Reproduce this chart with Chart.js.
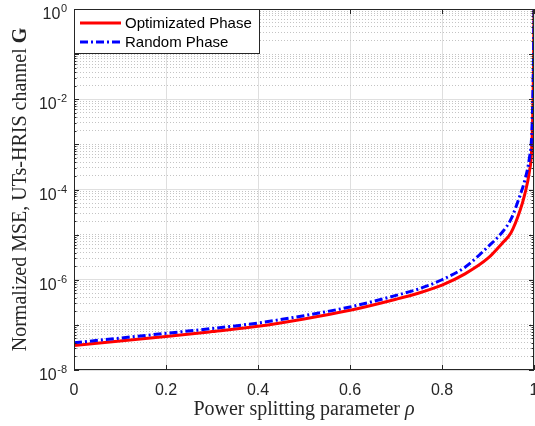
<!DOCTYPE html>
<html>
<head>
<meta charset="utf-8">
<script src="https://cdn.jsdelivr.net/npm/chart.js@4.4.0/dist/chart.umd.min.js"></script>
<style>
  html, body { margin: 0; padding: 0; background: #fff; overflow: hidden; }
  canvas { display: block; }
</style>
</head>
<body>
<canvas id="mseChart" width="535" height="426"></canvas>
<script>
// Data
const rho = [0, 0.1, 0.2, 0.3, 0.4, 0.5, 0.6, 0.7, 0.75, 0.8, 0.85, 0.9, 0.93, 0.95, 0.97, 0.98, 0.99, 0.995, 0.998, 0.999, 1];
const optimizedMse = [3.5e-8, 4.4e-8, 5.5e-8, 7.1e-8, 9.3e-8, 1.35e-7, 2.1e-7, 3.7e-7, 5.1e-7, 7.6e-7, 1.35e-6, 3.0e-6, 6.3e-6, 1.1e-5, 3.5e-5, 7.9e-5, 2.5e-4, 7.9e-4, 1e-2, 6.3e-2, 1];
const randomMse = [4.0e-8, 5.1e-8, 6.5e-8, 8.3e-8, 1.1e-7, 1.6e-7, 2.5e-7, 4.5e-7, 6.3e-7, 1.0e-6, 1.9e-6, 5.4e-6, 1.1e-5, 2.2e-5, 7.6e-5, 1.6e-4, 5.0e-4, 1.6e-3, 2.0e-2, 0.1, 1];
const seriesNames = ["Optimizated Phase", "Random Phase"];
const xTicks = [0, 0.2, 0.4, 0.6, 0.8, 1];
const xTickLabels = ["0", "0.2", "0.4", "0.6", "0.8", "1"];
const yTickExps = [0, -2, -4, -6, -8];
const yDecades = [-8, -7, -6, -5, -4, -3, -2, -1, 0];

const textGray = "#262626";
const serif = "'Liberation Serif', 'DejaVu Serif', serif";
const sans = "'Liberation Sans', Arial, sans-serif";

// every minor/major value for the log grid
const yGridValues = [];
yDecades.forEach((k) => {
  for (let m = 1; m <= 9; m++) {
    if (k === 0 && m > 1) break;
    yGridValues.push(m * Math.pow(10, k));
  }
});

function isDecade(v) {
  const e = Math.log10(v);
  return Math.abs(e - Math.round(e)) < 1e-9;
}
function isLabelled(v) {
  return isDecade(v) && Math.round(Math.log10(v)) % 2 === 0;
}

// Axes box, inward ticks, labels, titles, legend (MATLAB look)
const matlabAxes = {
  id: "matlabAxes",
  afterDraw(chart) {
    const { ctx, chartArea: a, scales: { x, y } } = chart;
    ctx.save();

    // tick marks
    ctx.strokeStyle = textGray;
    ctx.lineWidth = 1;
    ctx.beginPath();
    xTicks.forEach((v) => {
      const px = Math.round(x.getPixelForValue(v)) + 0.5;
      ctx.moveTo(px, a.bottom);
      ctx.lineTo(px, a.bottom - 5);
      ctx.moveTo(px, a.top);
      ctx.lineTo(px, a.top + 5);
    });
    yGridValues.forEach((v) => {
      const py = Math.round(y.getPixelForValue(v)) + 0.5;
      const len = isDecade(v) ? 5 : 2.5;
      ctx.moveTo(a.left, py);
      ctx.lineTo(a.left + len, py);
      ctx.moveTo(a.right, py);
      ctx.lineTo(a.right - len, py);
    });
    ctx.stroke();

    // box
    ctx.strokeRect(a.left + 0.5, a.top + 0.5, a.right - a.left - 1, a.bottom - a.top - 1);

    // x tick labels
    ctx.fillStyle = textGray;
    ctx.font = "16px " + sans;
    ctx.textAlign = "center";
    ctx.textBaseline = "alphabetic";
    xTicks.forEach((v, i) => {
      ctx.fillText(xTickLabels[i], x.getPixelForValue(v), a.bottom + 25);
    });

    // y tick labels 10^k
    ctx.textAlign = "right";
    yTickExps.forEach((k) => {
      const py = y.getPixelForValue(Math.pow(10, k));
      const exp = k === 0 ? "0" : "-" + Math.abs(k);
      ctx.font = "11px " + sans;
      const ew = ctx.measureText(exp).width;
      ctx.fillText(exp, 67, py + 3);
      ctx.font = "16px " + sans;
      ctx.fillText("10", 67 - ew - 0.5, py + 10);
    });

    // x title
    const xt1 = "Power splitting parameter ";
    ctx.font = "20px " + serif;
    const w1 = ctx.measureText(xt1).width;
    ctx.font = "italic 20px " + serif;
    const w2 = ctx.measureText("\u03c1").width;
    const sx = (a.left + a.right) / 2 - (w1 + w2) / 2;
    ctx.textAlign = "left";
    ctx.font = "20px " + serif;
    ctx.fillText(xt1, sx, 415);
    ctx.font = "italic 20px " + serif;
    ctx.fillText("\u03c1", sx + w1, 415);

    // y title
    const yt1 = "Normalized MSE, UTs-HRIS channel ";
    ctx.font = "20px " + serif;
    const yw1 = ctx.measureText(yt1).width;
    ctx.font = "bold 20px " + serif;
    const yw2 = ctx.measureText("G").width;
    ctx.translate(26, (a.top + a.bottom) / 2);
    ctx.rotate(-Math.PI / 2);
    const ys = -(yw1 + yw2) / 2;
    ctx.font = "20px " + serif;
    ctx.fillText(yt1, ys, 0);
    ctx.font = "bold 20px " + serif;
    ctx.fillText("G", ys + yw1, 0);
    ctx.setTransform(1, 0, 0, 1, 0, 0);

    // legend
    const lx = a.left + 0.5, ly = a.top + 0.5, lw = 185, lh = 44;
    ctx.fillStyle = "#fff";
    ctx.fillRect(lx, ly, lw, lh);
    ctx.strokeStyle = textGray;
    ctx.lineWidth = 1;
    ctx.strokeRect(lx, ly, lw, lh);
    ctx.font = "15px " + sans;
    ctx.textAlign = "left";
    ctx.textBaseline = "middle";
    const rows = [23, 42];
    chart.data.datasets.forEach((ds, i) => {
      ctx.strokeStyle = ds.borderColor;
      ctx.lineWidth = ds.borderWidth;
      ctx.setLineDash(ds.borderDash || []);
      ctx.beginPath();
      ctx.moveTo(80, rows[i]);
      ctx.lineTo(121, rows[i]);
      ctx.stroke();
      ctx.setLineDash([]);
      ctx.fillStyle = "#000";
      ctx.fillText(ds.label, 125, rows[i] + 1);
    });

    ctx.restore();
  },
};

// Config Chart
const config = {
  type: "line",
  data: {
    labels: rho,
    datasets: [
      {
        label: seriesNames[0],
        data: rho.map((r, i) => ({ x: r, y: optimizedMse[i] })),
        borderColor: "#ff0000",
        borderWidth: 3,
        pointRadius: 0,
        cubicInterpolationMode: "monotone",
        order: 1,
      },
      {
        label: seriesNames[1],
        data: rho.map((r, i) => ({ x: r, y: randomMse[i] })),
        borderColor: "#0000ff",
        borderWidth: 3,
        borderDash: [8, 3, 2, 3],
        pointRadius: 0,
        cubicInterpolationMode: "monotone",
        order: 0,
      },
    ],
  },
  options: {
    responsive: false,
    animation: false,
    devicePixelRatio: 1,
    layout: {
      padding: { left: 74, top: 9, right: 1, bottom: 56 },
    },
    plugins: {
      legend: { display: false },
      tooltip: { enabled: false },
    },
    scales: {
      x: {
        type: "linear",
        min: 0,
        max: 1,
        afterBuildTicks: (scale) => {
          scale.ticks = xTicks.map((v) => ({ value: v }));
        },
        ticks: { display: false },
        grid: { color: "#dfdfdf", lineWidth: 1, drawTicks: false },
        border: { display: false },
      },
      y: {
        type: "logarithmic",
        min: 1e-8,
        max: 1,
        afterBuildTicks: (scale) => {
          scale.ticks = yGridValues.map((v) => ({ value: v }));
        },
        ticks: { display: false },
        grid: {
          drawTicks: false,
          lineWidth: 1,
          color: (c) => (c.tick && isLabelled(c.tick.value) ? "#dfdfdf" : "#c4c4c4"),
        },
        border: {
          display: false,
          dash: (c) => (c.tick && isLabelled(c.tick.value) ? [] : [1, 2]),
        },
      },
    },
  },
  plugins: [matlabAxes],
};

// Render Chart
const mseChart = new Chart(document.getElementById("mseChart"), config);
</script>
</body>
</html>
